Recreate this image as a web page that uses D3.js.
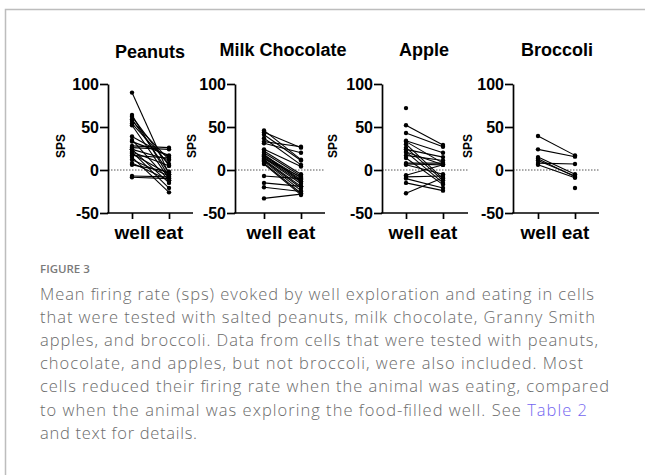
<!DOCTYPE html>
<html>
<head>
<meta charset="utf-8">
<script src="https://cdn.jsdelivr.net/npm/d3@7"></script>
<style>
  html, body { margin: 0; padding: 0; background: #fff; }
  svg { display: block; }
  .ax path, .ax line { stroke: #000; stroke-width: 1.7; }
  .ax text { font-family: "Liberation Sans", Arial, sans-serif; font-weight: bold; fill: #000; }
</style>
</head>
<body>
<svg id="chart" width="645" height="475"></svg>
<script>
// Paired firing rates (sps) per cell: exploring the well vs. eating.
const conditions = ["well", "eat"];
const yTicks = [-50, 0, 50, 100];
const foods = ["Peanuts", "Milk Chocolate", "Apple", "Broccoli"];

const peanutsWell = [90, 64, 62, 59, 57, 54, 52, 39, 35, 33, 28, 26, 24, 21, 19, 17, 15, 12, 8, 6, -7, -8.5, 24, 21];
const peanutsEat  = [-5, -8, 5, -3, 12, 7, -10, 15, -12, 17, 26, 24, -15, -21, -5, 14, -26, -7, -12, -2, -8, -10, 12, 5];

const chocolateWell = [46, 44, 41, 37, 33, 31, 24, 22, 20, 17, 16, 15, 14, 12, 11, 10, 8, 7, 13, -7, -15, -20, -33, 18];
const chocolateEat  = [12, 26, 11, 6, 27, 20, 4, -5, -7, -9, -11, -14, -16, -19, -21, -24, -27, -29, -8, -10, -19, -25, -28, -13];

const appleWell = [72, 52, 43, 34, 33, 30, 26, 24, 21, 17, 14, 8, 7, 6, -6, -8, -10, -15, -27, 21];
const appleEat  = [null, 29, 27, 20, 8, -10, -12, 15, -15, 11, -17, 8, 6, -5, 6, -7, -21, -24, -9, 6];

const broccoliWell = [39.5, 24, 15, 13, 8, 6, 11, null];
const broccoliEat  = [17, 15.5, -5, -8, 7, -9, -7, -21];

const wellSeries = [peanutsWell, chocolateWell, appleWell, broccoliWell];
const eatSeries  = [peanutsEat, chocolateEat, appleEat, broccoliEat];

// Panel geometry (pixels)
const panels = [
  { left: 108, right: 193, well: 132, eat: 169, titleX: 150, titleY: 58, labelX: 61 },
  { left: 235, right: 325, well: 264, eat: 301, titleX: 283, titleY: 56, labelX: 192 },
  { left: 382, right: 468, well: 406, eat: 443, titleX: 424, titleY: 56, labelX: 333 },
  { left: 513, right: 599, well: 538, eat: 575, titleX: 557, titleY: 56, labelX: 468 }
];

const svg = d3.select("#chart");

// Frame around the figure
svg.append("path")
  .attr("d", "M5.5,475 L5.5,9.5 L645,9.5")
  .attr("fill", "none")
  .attr("stroke", "#bdbdbd")
  .attr("stroke-width", 1.5);

const y = d3.scaleLinear().domain([-50, 100]).range([213, 84]);

panels.forEach((p, i) => {
  const g = svg.append("g");
  const x = d3.scalePoint().domain(conditions).range([p.well, p.eat]);

  // zero reference line
  g.append("line")
    .attr("x1", p.left).attr("x2", p.right)
    .attr("y1", y(0)).attr("y2", y(0))
    .attr("stroke", "#555")
    .attr("stroke-width", 1)
    .attr("stroke-dasharray", "1.5,1.5");

  // y axis
  const ya = g.append("g").attr("class", "ax")
    .attr("transform", `translate(${p.left},0)`)
    .call(d3.axisLeft(y).tickValues(yTicks).tickFormat(d => String(d))
      .tickSize(8).tickSizeOuter(0).tickPadding(1));
  ya.selectAll("text").attr("font-size", 16).attr("dy", "0.36em");

  // x axis
  g.append("line").attr("class", "ax")
    .attr("x1", p.left - 0.85).attr("x2", p.right)
    .attr("y1", y(-50)).attr("y2", y(-50))
    .attr("stroke", "#000").attr("stroke-width", 1.7);
  const xa = g.append("g").attr("class", "ax")
    .attr("transform", `translate(0,${y(-50)})`)
    .call(d3.axisBottom(x).tickSize(6).tickSizeOuter(0));
  xa.select(".domain").remove();
  xa.selectAll("text").attr("font-size", 19).attr("y", 26).attr("dy", 0);

  // y label
  g.append("text")
    .attr("transform", `translate(${p.labelX + 4},146) rotate(-90)`)
    .attr("text-anchor", "middle")
    .attr("font-family", "Liberation Sans, Arial, sans-serif")
    .attr("font-weight", "bold")
    .attr("font-size", 12)
    .text("SPS");

  // panel title
  g.append("text")
    .attr("x", p.titleX).attr("y", p.titleY)
    .attr("text-anchor", "middle")
    .attr("font-family", "Liberation Sans, Arial, sans-serif")
    .attr("font-weight", "bold")
    .attr("font-size", 18)
    .text(foods[i]);

  const cells = wellSeries[i].map((w, k) => ({ well: w, eat: eatSeries[i][k] }));

  // connecting lines
  g.selectAll("line.pair")
    .data(cells.filter(c => c.well != null && c.eat != null))
    .join("line")
    .attr("class", "pair")
    .attr("x1", x("well")).attr("x2", x("eat"))
    .attr("y1", c => y(c.well)).attr("y2", c => y(c.eat))
    .attr("stroke", "#000").attr("stroke-width", 1.1);

  // points
  const pts = [];
  cells.forEach(c => {
    if (c.well != null) pts.push({ cond: "well", v: c.well });
    if (c.eat != null) pts.push({ cond: "eat", v: c.eat });
  });
  g.selectAll("circle")
    .data(pts)
    .join("circle")
    .attr("cx", d => x(d.cond))
    .attr("cy", d => y(d.v))
    .attr("r", 2.2)
    .attr("fill", "#000");
});

// Caption
const cap = svg.append("g")
  .attr("font-family", "'Open Sans', 'Noto Sans', sans-serif");
cap.append("text")
  .attr("x", 40).attr("y", 273)
  .attr("font-size", 11.5)
  .attr("font-weight", 600)
  .attr("fill", "#7a7a7a")
  .text("FIGURE 3");

const captionLines = [
  "Mean firing rate (sps) evoked by well exploration and eating in cells",
  "that were tested with salted peanuts, milk chocolate, Granny Smith",
  "apples, and broccoli. Data from cells that were tested with peanuts,",
  "chocolate, and apples, but not broccoli, were also included. Most",
  "cells reduced their firing rate when the animal was eating, compared",
  "to when the animal was exploring the food-filled well. See ",
  "and text for details."
];
// line widths set by the column layout
const captionWidths = [554, 555, 558, 543, 569, 547, 157];
captionLines.forEach((t, k) => {
  const tx = cap.append("text")
    .attr("x", 40).attr("y", 300 + k * 23.1)
    .attr("font-size", 16.5)
    .attr("font-weight", 300)
    .attr("fill", "#6b6b6b");
  if (captionWidths[k]) tx.attr("textLength", captionWidths[k]).attr("lengthAdjust", "spacing");
  tx.append("tspan").text(t);
  if (k === 5) tx.append("tspan").attr("fill", "#7366f0").text("Table 2");
});
</script>
</body>
</html>
